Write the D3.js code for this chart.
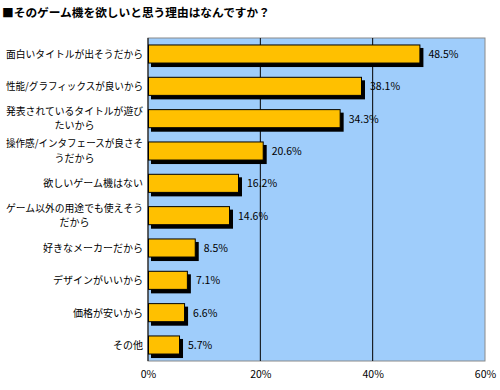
<!DOCTYPE html>
<html><head><meta charset="utf-8">
<script src="https://cdn.jsdelivr.net/npm/d3@7"></script>
<style>body{margin:0;background:#fff}svg{display:block}</style>
</head><body>
<script>
const title = "■そのゲーム機を欲しいと思う理由はなんですか？";
const categories = [
  ["面白いタイトルが出そうだから"],
  ["性能/グラフィックスが良いから"],
  ["発表されているタイトルが遊び","たいから"],
  ["操作感/インタフェースが良さそ","うだから"],
  ["欲しいゲーム機はない"],
  ["ゲーム以外の用途でも使えそう","だから"],
  ["好きなメーカーだから"],
  ["デザインがいいから"],
  ["価格が安いから"],
  ["その他"]
];
const values = [48.5, 38.1, 34.3, 20.6, 16.2, 14.6, 8.5, 7.1, 6.6, 5.7];
const ticks = [0, 20, 40, 60];

const W = 500, H = 390;
const font = "'Noto Sans CJK JP', sans-serif";
const svg = d3.select("body").append("svg").attr("width", W).attr("height", H);
const m = {l:148, r:485, t:38, b:361};
const x = d3.scaleLinear().domain([0,60]).range([m.l, m.r]);
const y = d3.scaleBand().domain(d3.range(categories.length)).range([m.t, m.b]).paddingInner(0.41).paddingOuter(0.2);

svg.append("text").attr("x", 2).attr("y", 17).attr("font-family", font).attr("font-weight", "bold")
  .attr("font-size", 11.7).attr("fill", "#000").text(title);

svg.append("rect").attr("x", m.l).attr("y", m.t).attr("width", m.r-m.l).attr("height", m.b-m.t)
  .attr("fill", "#9fcdfb").attr("stroke", "#8a8a8a").attr("stroke-width", 1);

// gridlines
svg.append("g").selectAll("line").data(ticks.filter(t => t>0 && t<60)).join("line")
  .attr("x1", d=>x(d)).attr("x2", d=>x(d)).attr("y1", m.t).attr("y2", m.b)
  .attr("stroke", "#000").attr("stroke-width", 1);

// axis tick labels
const ax = d3.axisBottom(x).tickValues(ticks).tickFormat(d=>d+"%").tickSize(0).tickPadding(10);
const axg = svg.append("g").attr("transform", `translate(0,${m.b})`).call(ax);
axg.select(".domain").remove();
axg.selectAll("text").attr("font-family", font).attr("font-size", 10.5).attr("fill", "#000");

// bars
const idx = d3.range(values.length);
svg.append("g").selectAll("rect").data(idx).join("rect")
  .attr("x", m.l+3).attr("y", i=>y(i)+3.5).attr("width", i=>x(values[i])-m.l).attr("height", y.bandwidth())
  .attr("fill", "#000");
svg.append("g").selectAll("rect").data(idx).join("rect")
  .attr("x", m.l+0.5).attr("y", i=>y(i)+0.5).attr("width", i=>x(values[i])-m.l-1).attr("height", y.bandwidth()-1)
  .attr("fill", "#ffc000").attr("stroke", "#000").attr("stroke-width", 1);

// left axis line
svg.append("line").attr("x1", m.l).attr("x2", m.l).attr("y1", m.t).attr("y2", m.b).attr("stroke", "#000");

// value labels
svg.append("g").selectAll("text").data(idx).join("text")
  .attr("x", i=>x(values[i])+8).attr("y", i=>y(i)+y.bandwidth()/2+4)
  .attr("font-family", font).attr("font-size", 10.5).attr("fill", "#000")
  .text(i=>values[i].toFixed(1)+"%");

// category labels
const lg = svg.append("g");
const maxW = 137;
function fit(t) {
  const w = t.node().getComputedTextLength();
  if (w > maxW) { t.attr("textLength", maxW).attr("lengthAdjust", "spacingAndGlyphs"); return maxW; }
  return w;
}
idx.forEach(i => {
  const lines = categories[i];
  const cy = y(i)+y.bandwidth()/2;
  if (lines.length === 1) {
    const t = lg.append("text").attr("x", m.l-5).attr("y", cy+4).attr("text-anchor","end")
      .attr("font-family", font).attr("font-size", 10).text(lines[0]);
    fit(t);
  } else {
    const t1 = lg.append("text").attr("x", m.l-5).attr("y", cy-4).attr("text-anchor","end")
      .attr("font-family", font).attr("font-size", 10).text(lines[0]);
    const w = fit(t1);
    lg.append("text").attr("x", m.l-5-w/2).attr("y", cy+10.5).attr("text-anchor","middle")
      .attr("font-family", font).attr("font-size", 10).text(lines[1]);
  }
});
</script>
</body></html>
